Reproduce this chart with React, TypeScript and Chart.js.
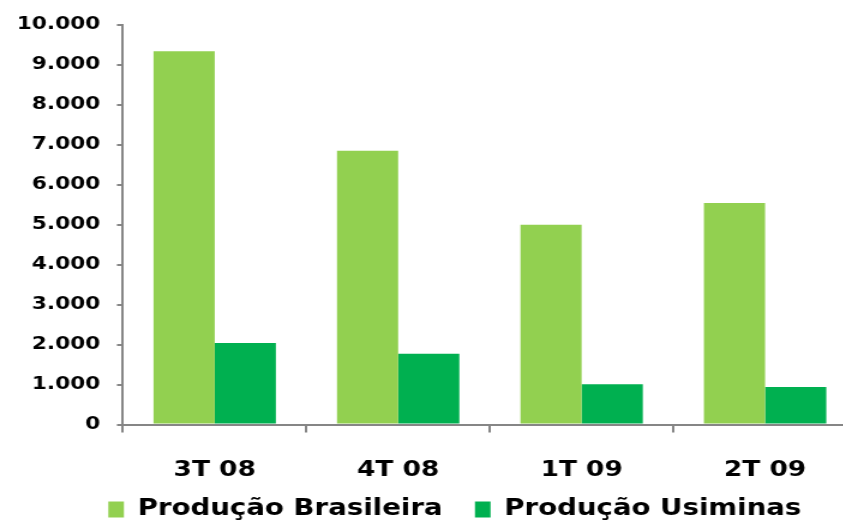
import { useEffect, useRef } from 'react';
import { Chart, registerables } from 'chart.js';

Chart.register(...registerables);

const categories = ['3T 08', '4T 08', '1T 09', '2T 09'];
const producaoBrasileira = [9340, 6850, 5000, 5540];
const producaoUsiminas = [2040, 1770, 1010, 940];
const seriesNames = ['Produção Brasileira', 'Produção Usiminas'];
const yTicks = [0, 1000, 2000, 3000, 4000, 5000, 6000, 7000, 8000, 9000, 10000];

const AXIS = '#868686';
const FONT = 'DejaVu Sans';
const STRETCH = 1.2;
const LEGEND_DX = 22;
const LEGEND_DY = -36;

const fmt = (v: number) => String(Math.round(v)).replace(/\B(?=(\d{3})+(?!\d))/g, '.');

export default function App() {
  const ref = useRef<HTMLCanvasElement>(null);

  useEffect(() => {
    document.body.style.margin = '0';
    const shiftLegend = {
      id: 'shiftLegend',
      afterLayout(chart: any) {
        const l = chart.legend;
        if (l) {
          l.left += LEGEND_DX;
          l.right += LEGEND_DX;
          l.top += LEGEND_DY;
          l.bottom += LEGEND_DY;
        }
      },
    };
    const chart = new Chart(ref.current as HTMLCanvasElement, {
      type: 'bar',
      data: {
        labels: categories,
        datasets: [
          {
            label: seriesNames[0],
            data: producaoBrasileira,
            backgroundColor: '#92D050',
            borderWidth: 0,
            barPercentage: 1,
            categoryPercentage: 0.667,
          },
          {
            label: seriesNames[1],
            data: producaoUsiminas,
            backgroundColor: '#00B050',
            borderWidth: 0,
            barPercentage: 1,
            categoryPercentage: 0.667,
          },
        ],
      },
      options: {
        animation: false,
        responsive: true,
        maintainAspectRatio: false,
        layout: { padding: { top: 22, left: 0, right: 0, bottom: 0 } },
        plugins: {
          legend: {
            position: 'bottom',
            labels: {
              boxWidth: 13,
              boxHeight: 16,
              padding: 27,
              color: '#000',
              font: { family: FONT, weight: 'bold', size: 23 },
            },
          },
          tooltip: { enabled: false },
        },
        scales: {
          x: {
            grid: { drawOnChartArea: false, tickLength: 8, color: AXIS, lineWidth: 2, offset: true },
            border: { color: AXIS, width: 2 },
            ticks: { color: '#000', padding: 24, font: { family: FONT, weight: 'bold', size: 22 } },
          },
          y: {
            min: 0,
            max: 10000,
            afterBuildTicks: (scale: any) => {
              scale.ticks = yTicks.map((v) => ({ value: v }));
            },
            ticks: {
              color: '#000',
              padding: 14,
              font: { family: FONT, weight: 'bold', size: 18 },
              callback: (v: any) => fmt(Number(v)),
            },
            grid: { drawOnChartArea: false, tickLength: 5, color: AXIS, lineWidth: 2 },
            border: { color: AXIS, width: 2 },
          },
        },
      },
      plugins: [shiftLegend],
    });
    return () => chart.destroy();
  }, []);

  return (
    <div style={{ position: 'fixed', left: 0, top: 0, width: 843, height: 522, overflow: 'hidden', background: '#fff' }}>
      <div
        style={{
          position: 'absolute',
          left: 0,
          top: 0,
          width: 714,
          height: 567,
          transform: `scaleX(${STRETCH})`,
          transformOrigin: '0 0',
        }}
      >
        <canvas ref={ref} />
      </div>
    </div>
  );
}
